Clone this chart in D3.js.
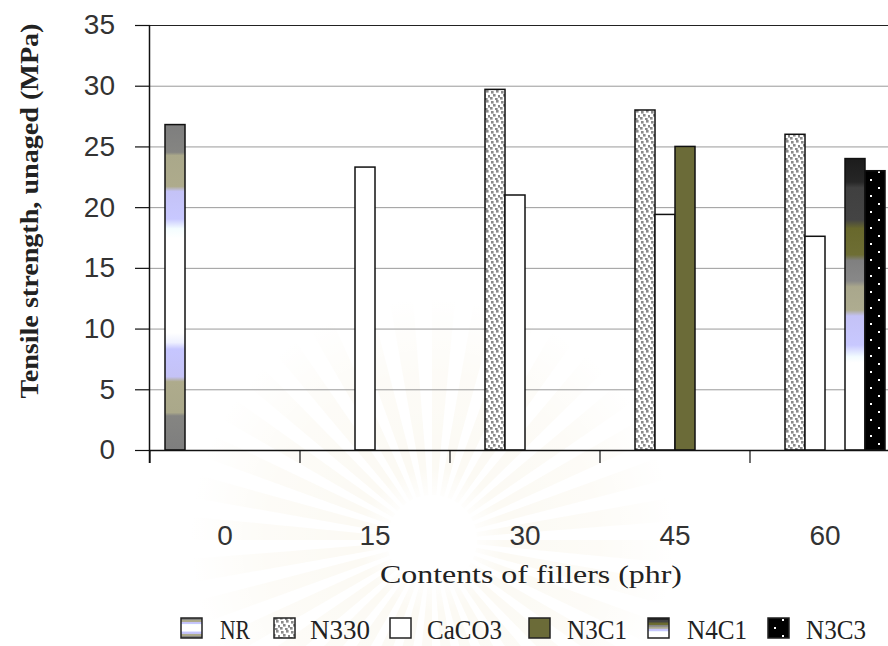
<!DOCTYPE html>
<html>
<head>
<meta charset="utf-8">
<script src="https://cdn.jsdelivr.net/npm/d3@7"></script>
<style>
  html, body { margin: 0; padding: 0; background: #fff; }
  svg { display: block; }
</style>
</head>
<body>
<div id="chart"></div>
<script>
// Filler contents (phr) and the compound series
const categories = ["0", "15", "30", "45", "60"];
const seriesNames = ["NR", "N330", "CaCO3", "N3C1", "N4C1", "N3C3"];

// Tensile strength (MPa), unaged; null = no bar for that compound at that content
const NR    = [26.8, null, null, null, null];
const N330  = [null, null, 29.7, 28.0, 26.0];
const CaCO3 = [null, 23.3, 21.0, 19.4, 17.6];
const N3C1  = [null, null, null, 25.0, null];
const N4C1  = [null, null, null, null, 24.0];
const N3C3  = [null, null, null, null, 23.0];

const yTicks = [0, 5, 10, 15, 20, 25, 30, 35];
const yTitle = "Tensile strength, unaged (MPa)";
const xTitle = "Contents of fillers (phr)";

const seriesValues = { NR, N330, CaCO3, N3C1, N4C1, N3C3 };

const W = 888, H = 646;
const plot = { left: 150, right: 900, top: 25, bottom: 450 };

const svg = d3.select("#chart").append("svg")
  .attr("width", W).attr("height", H);

const defs = svg.append("defs");

// NR: banded gradient, gray -> tan -> lavender -> white -> lavender -> tan -> gray
const gNR = defs.append("linearGradient").attr("id", "fillNR")
  .attr("x1", 0).attr("y1", 0).attr("x2", 0).attr("y2", 1);
[
  [0.00, "#7e7e7e"], [0.085, "#858582"], [0.095, "#aaa88a"], [0.19, "#aeab8c"],
  [0.205, "#c4c2f6"], [0.29, "#c8c8ff"], [0.32, "#f4fdff"], [0.35, "#ffffff"],
  [0.64, "#ffffff"], [0.67, "#eef0ff"], [0.69, "#c6c6ff"], [0.775, "#c4c2f6"],
  [0.79, "#aeab8c"], [0.885, "#aaa88a"], [0.895, "#858582"], [1.00, "#7e7e7e"]
].forEach(([o, c]) => gNR.append("stop").attr("offset", o).attr("stop-color", c));

// N4C1: dark top fading through olive, gray, tan and lavender to white
const gN4 = defs.append("linearGradient").attr("id", "fillN4C1")
  .attr("x1", 0).attr("y1", 0).attr("x2", 0).attr("y2", 1);
[
  [0.00, "#1c1c1c"], [0.08, "#262626"], [0.10, "#404040"], [0.21, "#444444"],
  [0.24, "#68682c"], [0.33, "#6e6e34"], [0.35, "#808080"], [0.42, "#888888"],
  [0.44, "#a9a78c"], [0.52, "#aeac90"], [0.54, "#c4c2f6"], [0.64, "#c8c8ff"],
  [0.68, "#f2fbff"], [0.70, "#ffffff"], [1.00, "#ffffff"]
].forEach(([o, c]) => gN4.append("stop").attr("offset", o).attr("stop-color", c));

// N330: white with scattered gray squares
const pN330 = defs.append("pattern").attr("id", "fillN330")
  .attr("patternUnits", "userSpaceOnUse").attr("width", 10).attr("height", 10);
pN330.append("rect").attr("width", 10).attr("height", 10).attr("fill", "#fff");
[[1, 1], [6, 0], [3, 4], [8, 5], [0, 7], [5, 8]].forEach(([x, y]) =>
  pN330.append("rect").attr("x", x).attr("y", y).attr("width", 2.6).attr("height", 2.6)
    .attr("fill", "#8a8a8a"));

// N3C3: black with staggered white dots
const pN3C3 = defs.append("pattern").attr("id", "fillN3C3")
  .attr("patternUnits", "userSpaceOnUse").attr("width", 16).attr("height", 16);
pN3C3.append("rect").attr("width", 16).attr("height", 16).attr("fill", "#000");
[[6, 3], [14, 11]].forEach(([x, y]) =>
  pN3C3.append("rect").attr("x", x).attr("y", y).attr("width", 2).attr("height", 2)
    .attr("fill", "#fff"));

const fills = {
  NR: "url(#fillNR)", N330: "url(#fillN330)", CaCO3: "#ffffff",
  N3C1: "#6b6b38", N4C1: "url(#fillN4C1)", N3C3: "url(#fillN3C3)"
};

// Faint sunburst emblem behind the category labels
const burst = svg.append("g").attr("transform", "translate(432,540)");
const rays = 36;
for (let i = 0; i < rays; i++) {
  const a0 = (i / rays) * 2 * Math.PI, a1 = a0 + (Math.PI / rays) * 1.1;
  burst.append("path")
    .attr("d", d3.arc()({ innerRadius: 45, outerRadius: 240, startAngle: a0, endAngle: a1 }))
    .attr("fill", "#f2e6c8").attr("opacity", 0.2);
}
const fade = defs.append("radialGradient").attr("id", "burstFade");
fade.append("stop").attr("offset", 0.15).attr("stop-color", "#fff").attr("stop-opacity", 1);
fade.append("stop").attr("offset", 0.3).attr("stop-color", "#fff").attr("stop-opacity", 0);
fade.append("stop").attr("offset", 0.7).attr("stop-color", "#fff").attr("stop-opacity", 0.3);
fade.append("stop").attr("offset", 1).attr("stop-color", "#fff").attr("stop-opacity", 1);
burst.append("circle").attr("r", 242).attr("fill", "url(#burstFade)");

// Scales
const x0 = d3.scaleBand().domain(categories).range([plot.left, plot.right]).padding(0);
const x1 = d3.scaleBand().domain(seriesNames).range([15, x0.bandwidth() - 15]).padding(0);
const y = d3.scaleLinear().domain([0, 35]).range([plot.bottom, plot.top]);

// Horizontal gridlines
svg.append("g").selectAll("line").data(yTicks.filter(d => d > 0 && d < 35)).join("line")
  .attr("x1", plot.left).attr("x2", W)
  .attr("y1", d => y(d) + 0.5).attr("y2", d => y(d) + 0.5)
  .attr("stroke", "#9a9a9a").attr("stroke-width", 1);
svg.append("line").attr("x1", plot.left).attr("x2", W)
  .attr("y1", y(35) + 0.5).attr("y2", y(35) + 0.5)
  .attr("stroke", "#222").attr("stroke-width", 1);

// Bars
const barData = [];
seriesNames.forEach(s => seriesValues[s].forEach((v, i) => {
  if (v != null) barData.push({ s, cat: categories[i], v });
}));
svg.append("g").selectAll("rect").data(barData).join("rect")
  .attr("x", d => x0(d.cat) + x1(d.s))
  .attr("y", d => y(d.v))
  .attr("width", x1.bandwidth())
  .attr("height", d => y(0) - y(d.v))
  .attr("fill", d => fills[d.s])
  .attr("stroke", "#111").attr("stroke-width", 1.5);

// Y axis
const yAxis = svg.append("g").attr("transform", `translate(${plot.left},0)`)
  .call(d3.axisLeft(y).tickValues(yTicks).tickSize(15).tickPadding(20).tickFormat(d3.format("d")));
yAxis.select(".domain").attr("d", `M-0.5,${plot.top}V${plot.bottom + 13}`).attr("stroke", "#111").attr("stroke-width", 1.5);
yAxis.selectAll(".tick line").attr("stroke", "#111").attr("stroke-width", 1.2);
yAxis.selectAll("text").attr("font-family", "'Liberation Sans', Arial, sans-serif")
  .attr("font-size", 28).attr("fill", "#333");

// X axis: labels centred in each group, ticks on group boundaries
const xAxis = svg.append("g").attr("transform", `translate(0,${plot.bottom})`)
  .call(d3.axisBottom(x0).tickSize(0).tickPadding(75));
xAxis.select(".domain").remove();
xAxis.selectAll("text").attr("font-family", "'Liberation Sans', Arial, sans-serif")
  .attr("font-size", 28).attr("fill", "#333");
svg.append("line").attr("x1", plot.left).attr("x2", W)
  .attr("y1", plot.bottom + 0.5).attr("y2", plot.bottom + 0.5)
  .attr("stroke", "#111").attr("stroke-width", 1.5);
svg.append("g").selectAll("line").data(categories).join("line")
  .attr("x1", d => x0(d)).attr("x2", d => x0(d))
  .attr("y1", plot.bottom).attr("y2", plot.bottom + 13)
  .attr("stroke", "#111").attr("stroke-width", 1.2);

// Axis titles
svg.append("text").attr("transform", "translate(38,211) rotate(-90)")
  .attr("text-anchor", "middle")
  .attr("font-family", "'Liberation Serif', 'Times New Roman', serif")
  .attr("font-weight", "bold").attr("font-size", 25).attr("fill", "#222")
  .attr("textLength", 375).attr("lengthAdjust", "spacingAndGlyphs")
  .text(yTitle);
svg.append("text").attr("x", 531).attr("y", 583)
  .attr("text-anchor", "middle")
  .attr("font-family", "'Liberation Serif', 'Times New Roman', serif")
  .attr("font-size", 26).attr("fill", "#222")
  .attr("textLength", 302).attr("lengthAdjust", "spacingAndGlyphs")
  .text(xTitle);

// Legend
const legendPos = [
  { icon: 181, text: 220 }, { icon: 274, text: 310 }, { icon: 390, text: 427 },
  { icon: 529, text: 567 }, { icon: 648, text: 687 }, { icon: 768, text: 806 }
];
const legend = svg.append("g");
seriesNames.forEach((s, i) => {
  legend.append("rect").attr("x", legendPos[i].icon).attr("y", 618)
    .attr("width", 21).attr("height", 20)
    .attr("fill", fills[s]).attr("stroke", "#222").attr("stroke-width", 1.5);
  legend.append("text").attr("x", legendPos[i].text).attr("y", 639)
    .attr("font-family", "'Liberation Serif', 'Times New Roman', serif")
    .attr("font-size", 27).attr("fill", "#222")
    .attr("textLength", s.length * 15).attr("lengthAdjust", "spacingAndGlyphs")
    .text(s);
});
</script>
</body>
</html>
